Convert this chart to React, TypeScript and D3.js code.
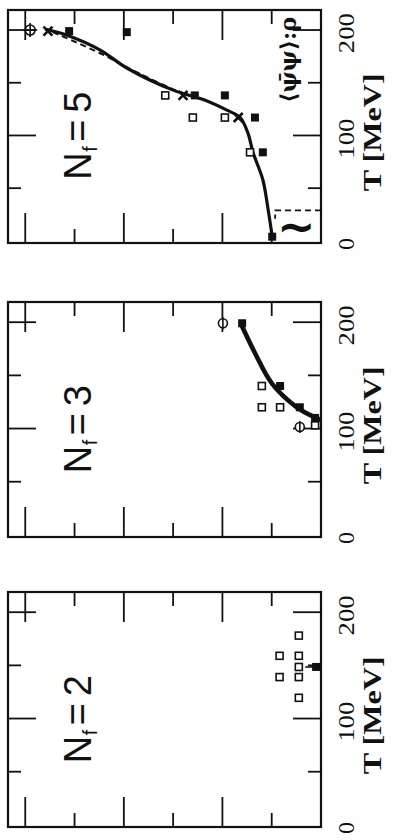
import React from "react";
import * as d3 from "d3";

type Pt = [number, number]; // [T in MeV, value]

const T_TICKS = [50, 100, 150, 200];
const T_MAJOR = [100, 200];
const T_LABELS = [0, 100, 200];
const V_TICKS = [1, 2, 3, 4, 5, 6];
const V_MAJOR = [2, 4, 6];

// N_f = 5
const NF5_SOLID: Pt[] = [[201, 5.6], [195, 5.15], [181, 4.48], [164, 3.94], [143, 3.0], [134, 2.39], [124, 1.91], [117, 1.64], [102, 1.48], [84, 1.38], [58, 1.18], [32, 1.08], [4, 0.99]];
const NF5_DASHED: Pt[] = [[198, 5.44], [178, 4.48], [160, 3.74], [142, 2.9], [133, 2.3]];
const NF5_OPEN: Pt[] = [[138, 3.16], [117, 2.6], [117, 1.95], [84, 1.44]];
const NF5_FILLED: Pt[] = [[199, 5.11], [198, 3.94], [138, 2.56], [138, 1.95], [117, 1.34], [84, 1.18], [4, 0.99]];
const NF5_CROSS: Pt[] = [[199, 5.54], [138, 2.8], [117, 1.68]];
const NF5_CIRCLE_CROSS: Pt[] = [[200, 5.9]];
const NF5_BRACKET: Pt[] = [[29, 0], [29, 0.93], [21, 0.93]];

// N_f = 3
const NF3_SOLID: Pt[] = [[198, 1.62], [171, 1.34], [142, 0.99], [120, 0.49], [110, 0.1], [108, 0]];
const NF3_OPEN: Pt[] = [[140, 1.2], [120, 1.2], [120, 0.83], [103, 0.12]];
const NF3_FILLED: Pt[] = [[199, 1.6], [140, 0.83], [120, 0.43], [110, 0.12]];
const NF3_CIRCLE_BAR: Pt[] = [[199, 1.99], [101.5, 0.43]];

// N_f = 2
const NF2_OPEN: Pt[] = [[178, 0.45], [159, 0.84], [159, 0.45], [148.5, 0.45], [139, 0.84], [139, 0.45], [119.5, 0.45]];
const NF2_FILLED: Pt[] = [[148.5, 0.1]];
const NF2_ERR: [number, number, number][] = [[148.5, 0.1, 0.32]];

const LEFT = 8;
const FRAME_W = 313;

const PANELS = [
  { nf: "5", top: 10, h: 233, solid: NF5_SOLID, dashed: NF5_DASHED, open: NF5_OPEN, filled: NF5_FILLED,
    cross: NF5_CROSS, circleCross: NF5_CIRCLE_CROSS, circleBar: [] as Pt[], err: [] as [number, number, number][],
    bracket: NF5_BRACKET, note: true, lw: 3.2 },
  { nf: "3", top: 302, h: 235, solid: NF3_SOLID, dashed: [] as Pt[], open: NF3_OPEN, filled: NF3_FILLED,
    cross: [] as Pt[], circleCross: [] as Pt[], circleBar: NF3_CIRCLE_BAR, err: [] as [number, number, number][],
    bracket: [] as Pt[], note: false, lw: 4.6 },
  { nf: "2", top: 592, h: 235, solid: [] as Pt[], dashed: [] as Pt[], open: NF2_OPEN, filled: NF2_FILLED,
    cross: [] as Pt[], circleCross: [] as Pt[], circleBar: [] as Pt[], err: NF2_ERR,
    bracket: [] as Pt[], note: false, lw: 3 },
];

const INK = "#111";

function Panel({ p }: { p: typeof PANELS[number] }) {
  const t = d3.scaleLinear().domain([-2, 219]).range([0, p.h]);
  const v = d3.scaleLinear().domain([0, 6.35]).range([FRAME_W, 0]);
  const line = d3.line<Pt>().x(d => t(d[0])).y(d => v(d[1])).curve(d3.curveCatmullRom.alpha(0.5));
  const poly = d3.line<Pt>().x(d => t(d[0])).y(d => v(d[1]));
  const SQ = 7, FSQ = 8;
  const nx = t(58), ny = v(4.67);

  return (
    <g transform={`translate(${LEFT},${p.top + p.h}) rotate(-90)`}>
      <rect x={0} y={0} width={p.h} height={FRAME_W} fill="none" stroke={INK} strokeWidth={2.2} />
      {T_TICKS.map(T => {
        const len = T_MAJOR.includes(T) ? 28 : 13;
        return (
          <g key={`t${T}`} stroke={INK} strokeWidth={1.8}>
            <line x1={t(T)} x2={t(T)} y1={FRAME_W} y2={FRAME_W - len} />
            <line x1={t(T)} x2={t(T)} y1={0} y2={len} />
          </g>
        );
      })}
      {V_TICKS.map(val => {
        const len = V_MAJOR.includes(val) ? 30 : 14;
        return (
          <g key={`v${val}`} stroke={INK} strokeWidth={1.8}>
            <line x1={0} x2={len} y1={v(val)} y2={v(val)} />
            <line x1={p.h} x2={p.h - len} y1={v(val)} y2={v(val)} />
          </g>
        );
      })}
      {T_LABELS.map(T => (
        <text key={`l${T}`} x={t(T - 3)} y={v(0) + 33} textAnchor="middle" fontFamily="Liberation Serif"
          fontSize={24} fill={INK} {...(T > 0 ? { textLength: 40, lengthAdjust: "spacingAndGlyphs" } : {})}>
          {T}
        </text>
      ))}
      <text x={t(103)} y={v(0) + 60} textAnchor="middle" fontFamily="Liberation Serif" fontWeight="bold"
        fontSize={25} fill={INK} textLength={118} lengthAdjust="spacingAndGlyphs">T [MeV]</text>

      <text y={ny} fontFamily="Liberation Sans" fontSize={38} fill={INK}>
        <tspan x={nx}>N</tspan>
        <tspan x={nx + 28} dy={6} fontSize={20}>f</tspan>
        <tspan x={nx + 38} dy={-6}>=</tspan>
        <tspan x={nx + 67}>{p.nf}</tspan>
      </text>

      {p.dashed.length > 0 && (
        <path d={line(p.dashed) ?? ""} fill="none" stroke={INK} strokeWidth={2} strokeDasharray="6 4" />
      )}
      {p.solid.length > 0 && (
        <path d={line(p.solid) ?? ""} fill="none" stroke={INK} strokeWidth={p.lw} strokeLinejoin="round" />
      )}
      {p.bracket.length > 0 && (
        <path d={poly(p.bracket) ?? ""} fill="none" stroke={INK} strokeWidth={1.8} strokeDasharray="6 4" />
      )}

      {p.open.map((d, i) => (
        <rect key={`o${i}`} x={t(d[0]) - SQ / 2} y={v(d[1]) - SQ / 2} width={SQ} height={SQ}
          fill="#fff" stroke={INK} strokeWidth={1.6} />
      ))}
      {p.filled.map((d, i) => (
        <rect key={`f${i}`} x={t(d[0]) - FSQ / 2} y={v(d[1]) - FSQ / 2} width={FSQ} height={FSQ} fill={INK} />
      ))}
      {p.cross.map((d, i) => (
        <g key={`x${i}`} stroke={INK} strokeWidth={2.6}>
          <line x1={t(d[0]) - 4.5} x2={t(d[0]) + 4.5} y1={v(d[1]) - 4.5} y2={v(d[1]) + 4.5} />
          <line x1={t(d[0]) - 4.5} x2={t(d[0]) + 4.5} y1={v(d[1]) + 4.5} y2={v(d[1]) - 4.5} />
        </g>
      ))}
      {p.circleCross.map((d, i) => (
        <g key={`c${i}`} stroke={INK} strokeWidth={1.6} fill="none">
          <circle cx={t(d[0])} cy={v(d[1])} r={5} />
          <line x1={t(d[0]) - 7} x2={t(d[0]) + 7} y1={v(d[1])} y2={v(d[1])} />
          <line x1={t(d[0])} x2={t(d[0])} y1={v(d[1]) - 7} y2={v(d[1]) + 7} />
        </g>
      ))}
      {p.circleBar.map((d, i) => (
        <g key={`b${i}`} stroke={INK} strokeWidth={1.6} fill="#fff">
          <circle cx={t(d[0])} cy={v(d[1])} r={4.5} />
          <line x1={t(d[0]) - 6} x2={t(d[0]) + 6} y1={v(d[1])} y2={v(d[1])} />
        </g>
      ))}
      {p.err.map((d, i) => (
        <line key={`e${i}`} x1={t(d[0])} x2={t(d[0])} y1={v(d[1])} y2={v(d[2])} stroke={INK} strokeWidth={1.6} />
      ))}

      {p.note && (
        <>
          <text x={t(131)} y={v(0.5)} fontFamily="DejaVu Serif" fontWeight="bold" fontSize={22} fill={INK}
            textLength={86} lengthAdjust="spacingAndGlyphs">⟨ψ̄ψ⟩:ρ</text>
          <text transform={`translate(${t(14)},${v(0.5)}) rotate(90)`} textAnchor="middle" dominantBaseline="central"
            fontFamily="DejaVu Sans" fontWeight="bold" fontSize={46} fill={INK}>~</text>
        </>
      )}
    </g>
  );
}

export default function App() {
  return (
    <svg width={401} height={840} style={{ position: "absolute", left: 0, top: 0, background: "#fff" }}>
      <rect width={401} height={840} fill="#fff" />
      {PANELS.map(p => <Panel key={p.nf} p={p} />)}
    </svg>
  );
}
